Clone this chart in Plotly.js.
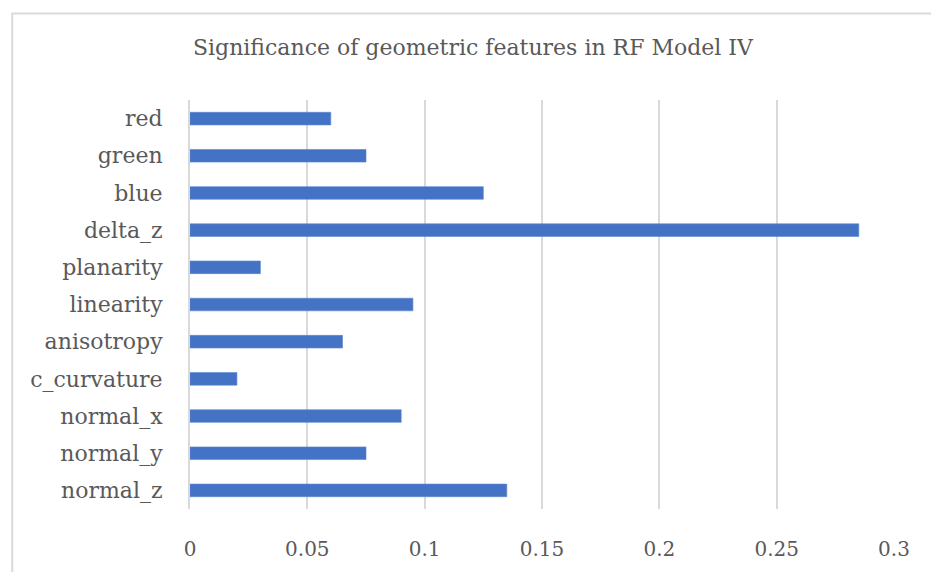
<!DOCTYPE html>
<html>
<head>
<meta charset="utf-8">
<script src="https://cdn.plot.ly/plotly-3.0.1.min.js"></script>
<style>
  html, body { margin: 0; padding: 0; background: #ffffff; }
  #chart { width: 931px; height: 572px; }
</style>
</head>
<body>
<div id="chart"></div>
<script>
// Feature importances of the RF Model IV, listed top to bottom
const features = ["red", "green", "blue", "delta_z", "planarity", "linearity",
                  "anisotropy", "c_curvature", "normal_x", "normal_y", "normal_z"];
const importance = [0.06, 0.075, 0.125, 0.285, 0.03, 0.095,
                    0.065, 0.02, 0.09, 0.075, 0.135];
const xTicks = [0, 0.05, 0.1, 0.15, 0.2, 0.25, 0.3];
const xTickText = ["0", "0.05", "0.1", "0.15", "0.2", "0.25", "0.3"];

const W = 931, H = 572;
const M = { l: 189.5, r: 36.5, t: 99.5, b: 63 };
const plotW = W - M.l - M.r, plotH = H - M.t - M.b;
const FONT = "DejaVu Serif, Liberation Serif, serif";
const GREY = "#595959";

// frame corner: left and top edges of the chart box, in paper units
const fx = (11.5 - M.l) / plotW, fy = 1 + (M.t - 13) / plotH;
const fBottom = -(M.b + 5) / plotH, fRight = 1 + (M.r + 5) / plotW;

const trace = {
  type: "bar",
  orientation: "h",
  y: features,
  x: importance,
  marker: { color: "#4472C4", line: { color: "#5b86d3", width: 0.6 } },
  hoverinfo: "x+y"
};

const layout = {
  width: W, height: H,
  margin: M,
  paper_bgcolor: "#ffffff",
  plot_bgcolor: "#ffffff",
  showlegend: false,
  bargap: 0.66,
  font: { family: FONT, color: GREY, size: 20 },
  title: {
    text: "Significance of geometric features in RF Model IV",
    font: { family: FONT, size: 22, color: GREY },
    xref: "container", x: 0.508, xanchor: "center",
    yref: "container", y: 1 - 47 / H, yanchor: "middle"
  },
  xaxis: {
    range: [0, 0.3],
    tickvals: xTicks,
    ticktext: xTickText,
    showgrid: true,
    gridcolor: "#d9d9d9",
    gridwidth: 2,
    zeroline: false,
    showline: false,
    ticks: "",
    ticklabelstandoff: 26,
    tickfont: { family: FONT, size: 20, color: GREY },
    fixedrange: true
  },
  yaxis: {
    autorange: false,
    range: [features.length - 0.5, -0.5],
    type: "category",
    showgrid: false,
    zeroline: false,
    showline: true,
    linecolor: "#d9d9d9",
    linewidth: 2,
    ticks: "",
    ticklabelstandoff: 21,
    tickfont: { family: FONT, size: 22, color: GREY },
    fixedrange: true
  },
  shapes: [{
    type: "path",
    xref: "paper", yref: "paper",
    path: `M ${fx} ${fBottom} L ${fx} ${fy} L ${fRight} ${fy}`,
    line: { color: "#d9d9d9", width: 2 },
    layer: "below"
  }]
};

Plotly.newPlot("chart", [trace], layout, { displayModeBar: false, staticPlot: true });
</script>
</body>
</html>
